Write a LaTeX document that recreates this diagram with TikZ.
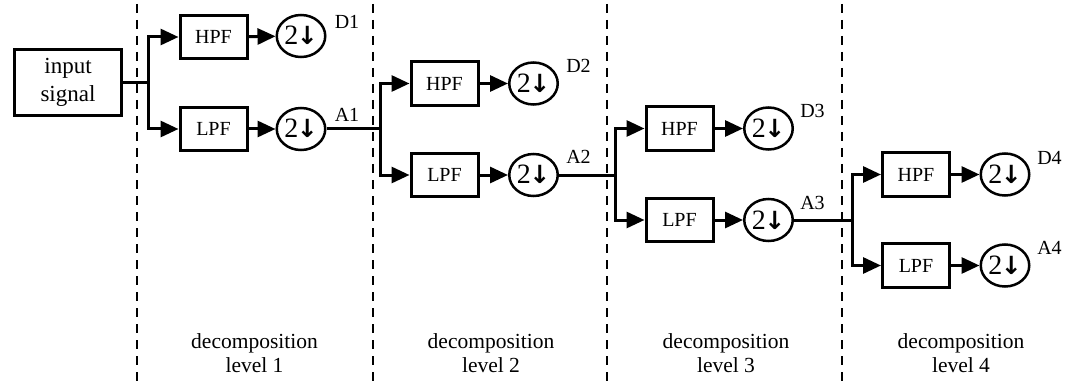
\documentclass[tikz,border=0pt]{standalone}
\usepackage{fontspec}
\setmainfont{Liberation Serif}
\newfontfamily\arrowfont{DejaVu Sans}
\usetikzlibrary{arrows.meta,shapes.geometric}
% "2" followed by a bold down arrow, centred on a zero-size box so the ellipse keeps its own size
\newcommand{\dsym}{\smash{\raisebox{-9pt}{\makebox[0pt]{2\kern-1.5pt{\arrowfont\bfseries\fontsize{25}{28}\selectfont ↓}}}}}
\begin{document}
\begin{tikzpicture}[x=1pt,y=-1pt,
  filt/.style={draw,line width=3pt,minimum width=67pt,minimum height=43.5pt,
    inner sep=0pt,font=\fontsize{20}{24}\selectfont},
  dsamp/.style={draw,ellipse,line width=2.5pt,minimum width=48.5pt,minimum height=42pt,
    inner sep=0pt,font=\fontsize{28}{30}\selectfont},
  wire/.style={line width=3pt},
  flow/.style={wire,-{Triangle[length=18pt,width=16pt]}},
  tag/.style={inner sep=0pt,font=\fontsize{20}{24}\selectfont},
  caption/.style={align=center,inner sep=0pt,font=\fontsize{21.5}{24}\selectfont},
  sep/.style={line width=1.9pt,dash pattern=on 9pt off 7pt}]

\useasboundingbox (0,0) rectangle (1071,385);

% level separators
\draw[sep] (137,4) -- (137,385);
\draw[sep] (373,4) -- (373,385);
\draw[sep] (607,4) -- (607,385);
\draw[sep] (842,4) -- (842,385);

% source block
\node[filt,minimum width=107pt,minimum height=66pt,align=center,
  font=\fontsize{23}{28}\selectfont] (in) at (68,82.5) {input\\signal};

% level 1
\node[filt] (h1) at (213.5,37) {HPF};
\node[filt] (l1) at (213.5,129) {LPF};
\node[dsamp] (dh1) at (301,36) {\dsym};
\node[dsamp] (dl1) at (301,129) {\dsym};
% level 2
\node[filt] (h2) at (444.5,83.5) {HPF};
\node[filt] (l2) at (444.5,175) {LPF};
\node[dsamp] (dh2) at (533.5,83.5) {\dsym};
\node[dsamp] (dl2) at (533.5,175) {\dsym};
% level 3
\node[filt] (h3) at (679.5,128.5) {HPF};
\node[filt] (l3) at (679.5,220) {LPF};
\node[dsamp] (dh3) at (768.5,128.5) {\dsym};
\node[dsamp] (dl3) at (768.5,220) {\dsym};
% level 4
\node[filt] (h4) at (916,174.5) {HPF};
\node[filt] (l4) at (916,265.5) {LPF};
\node[dsamp] (dh4) at (1005,174.5) {\dsym};
\node[dsamp] (dl4) at (1005,265.5) {\dsym};

% branch points
\coordinate (b1) at (148,82.5);
\coordinate (b2) at (380,129);
\coordinate (b3) at (615,175);
\coordinate (b4) at (852,220);

% signal flow
\draw[wire] (in.east) -- (b1);
\draw[flow] (b1) |- (h1.west);
\draw[flow] (b1) |- (l1.west);
\draw[flow] (h1) -- (dh1);
\draw[flow] (l1) -- (dl1);
\draw[wire] (dl1.east) -- (b2);
\draw[flow] (b2) |- (h2.west);
\draw[flow] (b2) |- (l2.west);
\draw[flow] (h2) -- (dh2);
\draw[flow] (l2) -- (dl2);
\draw[wire] (dl2.east) -- (b3);
\draw[flow] (b3) |- (h3.west);
\draw[flow] (b3) |- (l3.west);
\draw[flow] (h3) -- (dh3);
\draw[flow] (l3) -- (dl3);
\draw[wire] (dl3.east) -- (b4);
\draw[flow] (b4) |- (h4.west);
\draw[flow] (b4) |- (l4.west);
\draw[flow] (h4) -- (dh4);
\draw[flow] (l4) -- (dl4);

% coefficient labels
\node[tag] (tD1) at ([shift={(46,-14)}]dh1.center) {D1};
\node[tag] (tA1) at ([shift={(46,-14)}]dl1.center) {A1};
\node[tag] (tD2) at ([shift={(45,-18)}]dh2.center) {D2};
\node[tag] (tA2) at ([shift={(45,-18)}]dl2.center) {A2};
\node[tag] (tD3) at ([shift={(44,-17.5)}]dh3.center) {D3};
\node[tag] (tA3) at ([shift={(44,-17.5)}]dl3.center) {A3};
\node[tag] (tD4) at ([shift={(44.5,-17)}]dh4.center) {D4};
\node[tag] (tA4) at ([shift={(44.5,-17.5)}]dl4.center) {A4};

% level captions
\node[caption] (c1) at (254.5,353) {decomposition\\level 1};
\node[caption] (c2) at (491,353) {decomposition\\level 2};
\node[caption] (c3) at (726,353) {decomposition\\level 3};
\node[caption] (c4) at (961,353) {decomposition\\level 4};
\end{tikzpicture}
\end{document}
